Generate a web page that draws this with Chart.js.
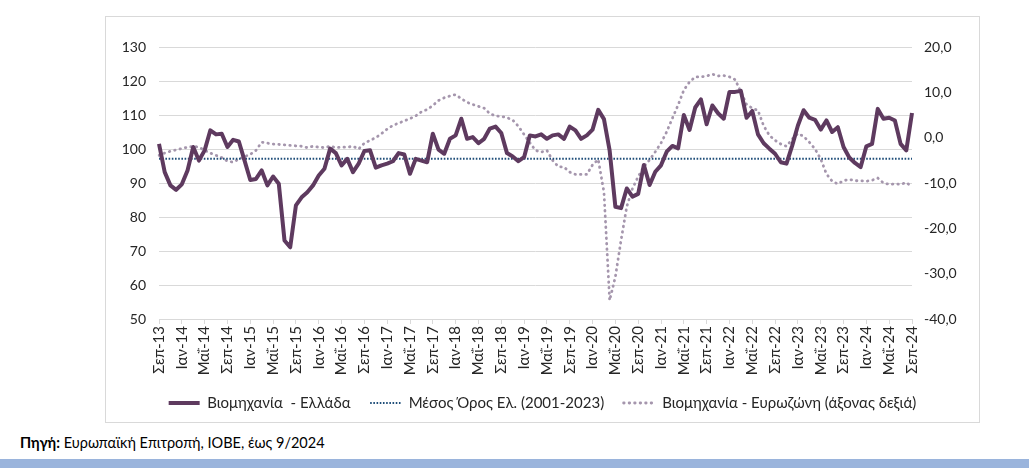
<!DOCTYPE html>
<html><head><meta charset="utf-8">
<script src="https://cdn.jsdelivr.net/npm/chart.js@4.4.1/dist/chart.umd.min.js"></script>
<style>
html,body{margin:0;padding:0;background:#fff;width:1029px;height:468px;overflow:hidden;font-family:Lato,'Liberation Sans',sans-serif;}
#box{position:absolute;left:105px;top:16px;width:873px;height:405px;border:1px solid #d9d9d9;}
#box canvas{position:absolute;left:0;top:0}
#src{position:absolute;left:20px;top:434px;font-size:14.5px;color:#000;}
#bar{position:absolute;left:0;top:459px;width:1029px;height:9px;background:#9ab4dc;}
</style></head><body>
<div id="box"><canvas id="c" width="873" height="405"></canvas></div>
<div id="src"><b>Πηγή:</b> Ευρωπαϊκή Επιτροπή, ΙΟΒΕ, έως 9/2024</div>
<div id="bar"></div>
<script>
const monthNames = ['Ιαν','Φεβ','Μαρ','Απρ','Μαΐ','Ιουν','Ιουλ','Αυγ','Σεπ','Οκτ','Νοε','Δεκ'];
// Sep 2013 .. Sep 2024
const labels = [];
for (let y = 2013, m = 8; y < 2024 || (y === 2024 && m <= 8); ) {
  labels.push(monthNames[m] + '-' + String(y).slice(2));
  m++; if (m > 11) { m = 0; y++; }
}
const greece = [
101.5,93.2,89.3,88.0,89.6,93.7,100.6,96.6,99.6,105.5,104.3,104.5,100.6,102.7,102.2,96.6,
90.9,91.2,93.7,89.3,91.9,89.8,73.1,71.1,83.4,85.8,87.3,89.3,92.2,94.2,100.1,98.8,
95.2,97.1,93.2,95.7,99.4,99.6,94.5,95.2,95.7,96.4,98.8,98.4,92.7,97.1,96.6,96.1,
104.5,99.8,98.6,103.0,104.0,108.9,103.0,103.5,101.7,103.0,106.0,106.6,104.7,98.8,97.8,96.4,
97.6,104.0,103.7,104.3,103.0,104.0,104.3,103.0,106.6,105.5,103.0,104.0,105.7,111.5,108.8,99.5,
83.0,82.6,88.4,86.0,86.8,95.3,89.4,93.3,95.2,99.2,100.9,100.2,110.0,105.6,112.2,114.6,
107.3,112.8,110.5,108.9,116.8,116.8,117.1,109.2,111.2,104.3,101.7,100.1,98.6,96.1,95.7,101.0,
106.9,111.4,109.2,108.6,105.7,108.4,105.0,106.4,100.6,97.5,95.9,94.7,100.8,101.5,111.8,108.9,
109.2,108.4,101.5,99.6,110.6
];
const greekMean = 97.1;
const eurozone = [
-3.9,-3.4,-3.0,-2.7,-2.4,-2.1,-1.9,-2.1,-2.8,-3.4,-3.9,-4.4,-5.2,-5.4,-4.7,-4.2,
-3.7,-2.8,-1.0,-1.2,-1.4,-1.5,-1.6,-1.7,-1.8,-1.9,-2.2,-1.9,-2.1,-2.2,-1.9,-2.2,
-2.1,-2.1,-1.9,-2.5,-1.2,-0.6,0.0,0.9,1.9,2.7,3.2,3.7,4.2,4.8,5.7,6.2,
7.1,8.2,8.8,9.2,9.5,8.6,7.8,7.3,6.9,6.5,5.3,4.8,4.7,4.4,3.9,2.5,
0.7,-1.1,-2.8,-3.2,-2.8,-5.0,-6.4,-6.5,-7.6,-8.1,-8.1,-8.1,-6.0,-4.8,-12.0,-35.9,
-30.7,-22.6,-15.2,-11.2,-8.6,-6.4,-4.9,-3.1,-1.2,1.3,4.3,7.2,10.5,12.3,13.4,13.4,
13.6,14.0,13.6,13.7,13.4,12.8,10.1,7.3,6.5,6.0,2.6,0.5,-0.6,-1.4,-1.9,-0.3,
0.9,0.3,-1.0,-2.5,-4.7,-8.0,-9.6,-10.2,-9.5,-9.2,-9.5,-9.5,-9.6,-9.4,-8.9,-10.0,
-10.3,-10.2,-10.3,-9.9,-10.8
];
const seriesNames = ['Βιομηχανία  - Ελλάδα','Μέσος Όρος Ελ. (2001-2023)','Βιομηχανία - Ευρωζώνη (άξονας δεξιά)'];
const meanLine = labels.map(() => greekMean);

const fam = "Lato, 'Liberation Sans', sans-serif";
const txt = '#262626';
new Chart(document.getElementById('c'), {
  type: 'line',
  data: {
    labels: labels,
    datasets: [
      {label: seriesNames[0], data: greece, yAxisID: 'y', borderColor: '#5e3a5f', backgroundColor: '#5e3a5f', borderWidth: 4, pointRadius: 0, tension: 0, borderJoinStyle: 'round'},
      {label: seriesNames[1], data: meanLine, yAxisID: 'y', borderColor: '#1f4e79', backgroundColor: '#1f4e79', borderWidth: 2, borderDash: [1.6, 1.6], pointRadius: 0},
      {label: seriesNames[2], data: eurozone, yAxisID: 'y1', borderColor: '#a596ad', backgroundColor: '#a596ad', borderWidth: 2.8, borderDash: [0.5, 5], borderCapStyle: 'round', pointRadius: 0}
    ]
  },
  options: {
    responsive: false,
    animation: false,
    layout: {padding: {left: 0, right: 0, top: 30, bottom: 1.5}},
    plugins: {
      tooltip: {enabled: false},
      legend: {
        position: 'bottom',
        labels: {
          usePointStyle: true, pointStyle: 'line', pointStyleWidth: 31, boxWidth: 31,
          font: {family: fam, size: 15}, color: txt, padding: 19.5,
          generateLabels: (chart) => chart.data.datasets.map((ds, i) => ({
            text: ds.label, fillStyle: ds.borderColor, strokeStyle: ds.borderColor,
            lineWidth: ds.borderWidth, lineDash: ds.borderDash || [], lineCap: ds.borderCapStyle || 'butt',
            pointStyle: 'line', hidden: false, datasetIndex: i, fontColor: txt
          }))
        }
      }
    },
    scales: {
      x: {
        grid: {drawOnChartArea: false, tickLength: 5, color: (c) => (c.index % 4 === 0 ? '#d9d9d9' : 'rgba(0,0,0,0)')},
        border: {color: '#d9d9d9'},
        ticks: {autoSkip: false, minRotation: 90, maxRotation: 90, padding: 2, font: {family: fam, size: 15}, color: txt,
          callback: function(v, i) { return i % 4 === 0 ? labels[i] : ''; }},
        afterFit: (s) => { s.height = 57; }
      },
      y: {
        position: 'left', min: 50, max: 130,
        ticks: {stepSize: 10, font: {family: fam, size: 14}, color: txt, padding: 13},
        grid: {color: '#d9d9d9', drawTicks: false},
        border: {display: false},
        afterFit: (s) => { s.width = 53; }
      },
      y1: {
        position: 'right', min: -40, max: 20,
        ticks: {stepSize: 10, font: {family: fam, size: 14}, color: txt, padding: 12,
          callback: (v) => v.toFixed(1).replace('.', ',')},
        grid: {drawOnChartArea: false, drawTicks: false},
        border: {display: false},
        afterFit: (s) => { s.width = 67; }
      }
    }
  }
});
</script>
</body></html>
